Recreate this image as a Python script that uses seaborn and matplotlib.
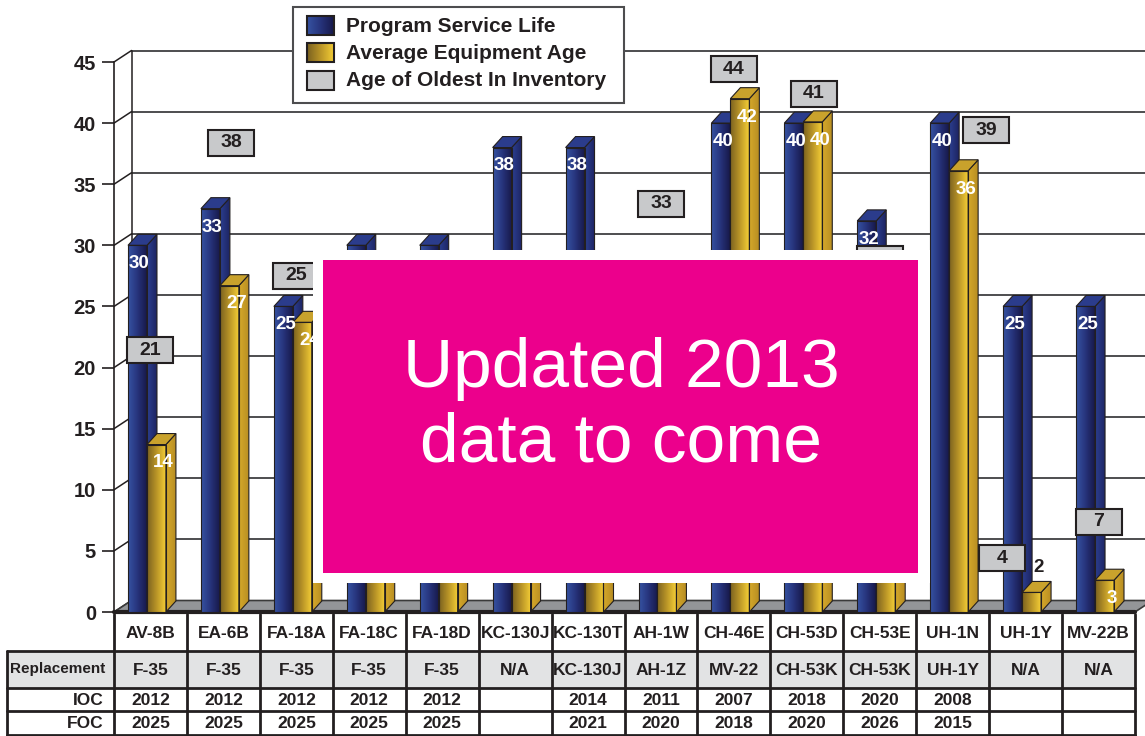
import numpy as np
import pandas as pd
import seaborn as sns
import matplotlib.pyplot as plt
from matplotlib.colors import LinearSegmentedColormap
from matplotlib.patches import Polygon, Rectangle

# data (values under the pink box are estimates)
categories = ["AV-8B", "EA-6B", "FA-18A", "FA-18C", "FA-18D", "KC-130J", "KC-130T",
              "AH-1W", "CH-46E", "CH-53D", "CH-53E", "UH-1N", "UH-1Y", "MV-22B"]
service_life = [30, 33, 25, 30, 30, 38, 38, 25, 40, 40, 32, 40, 25, 25]
avg_age = [13.7, 26.7, 23.7, 20, 20, 5, 25, 20, 42, 40.1, 24, 36.1, 1.6, 2.6]
oldest = [21, 38, 25, 24, 24, 6, 26, 33, 44, 41, 28.5, 39, 4, 7]
replacement = ["F-35", "F-35", "F-35", "F-35", "F-35", "N/A", "KC-130J",
               "AH-1Z", "MV-22", "CH-53K", "CH-53K", "UH-1Y", "N/A", "N/A"]
ioc = ["2012", "2012", "2012", "2012", "2012", "", "2014",
       "2011", "2007", "2018", "2020", "2008", "", ""]
foc = ["2025", "2025", "2025", "2025", "2025", "", "2021",
       "2020", "2018", "2020", "2026", "2015", "", ""]
series_names = ["Program Service Life", "Average Equipment Age", "Age of Oldest In Inventory"]

sns.set_theme(style="white")
plt.rcParams["font.family"] = ["Liberation Sans", "DejaVu Sans"]
INK = "#231f20"

W, H = 1145, 736
AX_L, AX_R, AX_T, AX_B = 114, 1135, 62, 612
XL, XR = -0.452, 13.548
NOTICE = (313, 250, 930, 583)  # white frame around the pink notice, in pixels


def ux(px):
    return px * 14 / (AX_R - AX_L)


def uy(px):
    return px * 45 / (AX_B - AX_T)


def hidden(x, y):
    # True when a data point sits under the notice box
    px = AX_L + (x - XL) * (AX_R - AX_L) / 14
    py = AX_B - y * (AX_B - AX_T) / 45
    return NOTICE[0] < px < NOTICE[2] and NOTICE[1] < py < NOTICE[3]


WDX, WDY = ux(17.5), uy(11.5)   # back wall depth
BDX, BDY = ux(10), uy(11)       # bar depth

blue_front = LinearSegmentedColormap.from_list("bf", ["#3653a2", "#27347c", "#17184a"])
blue_side = LinearSegmentedColormap.from_list("bs", ["#2c3f90", "#1d2462"])
gold_front = LinearSegmentedColormap.from_list("gf", ["#7a6120", "#b99427", "#f3cd36"])
gold_side = LinearSegmentedColormap.from_list("gs", ["#d6a92b", "#b88e22"])
grad = np.linspace(0, 1, 128).reshape(1, -1)

fig = plt.figure(figsize=(W / 100, H / 100), dpi=100)
ax = fig.add_axes([AX_L / W, 1 - AX_B / H, (AX_R - AX_L) / W, (AX_B - AX_T) / H])
ax.set_facecolor("none")

df = pd.DataFrame({
    "aircraft": categories * 2,
    "series": [series_names[0]] * len(categories) + [series_names[1]] * len(categories),
    "value": service_life + avg_age,
})
sns.barplot(data=df, x="aircraft", y="value", hue="series", order=categories,
            hue_order=series_names[:2], palette=["#27347c", "#b99427"],
            width=0.52, gap=0, errorbar=None, saturation=1, legend=False, ax=ax)

# back wall grid, left wall and floor
for v in range(0, 50, 5):
    ax.plot([XL + WDX, XR + WDX], [v + WDY, v + WDY], color="#4d4d4f", lw=1.4,
            zorder=0.5, clip_on=False)
    ax.plot([XL, XL + WDX], [v, v + WDY], color=INK, lw=1.1, zorder=0.5, clip_on=False)
ax.plot([XL + WDX, XL + WDX], [WDY, 45 + WDY], color=INK, lw=1.1, zorder=0.5, clip_on=False)
ax.add_patch(Polygon([(XL, 0), (XR, 0), (XR + WDX, WDY), (XL + WDX, WDY)],
                     closed=True, fc="#939598", ec="#3a3a3a", lw=1.2, zorder=0.8,
                     clip_on=False))
ax.plot([XL, XR], [0, 0], color=INK, lw=3, zorder=0.9, clip_on=False)

# turn the flat seaborn bars into shaded 3d columns
styles = [(blue_front, blue_side, "#2b3c8c", 3, 0.2 * BDX),
          (gold_front, gold_side, "#c9a22c", 4, 0.5 * BDX + ux(2))]
for cont, (cf, cs, ctop, z, lab_dx) in zip(ax.containers, styles):
    for bar in cont:
        x0, w, h = bar.get_x(), bar.get_width(), bar.get_height()
        x1 = x0 + w
        side = Polygon([(x1, 0), (x1 + BDX, BDY), (x1 + BDX, h + BDY), (x1, h)],
                       closed=True, fc="none", ec=INK, lw=0.8, zorder=z + 0.2)
        ax.add_patch(side)
        im = ax.imshow(grad, cmap=cs, extent=[x1, x1 + BDX, 0, h + BDY], aspect="auto",
                       origin="lower", interpolation="bilinear", zorder=z + 0.1)
        im.set_clip_path(side)
        ax.add_patch(Polygon([(x0, h), (x1, h), (x1 + BDX, h + BDY), (x0 + BDX, h + BDY)],
                             closed=True, fc=ctop, ec=INK, lw=0.8, zorder=z + 0.2))
        ax.imshow(grad, cmap=cf, extent=[x0, x1, 0, h], aspect="auto", origin="lower",
                  interpolation="bilinear", zorder=z + 0.1)
        bar.set_facecolor("none")
        bar.set_edgecolor(INK)
        bar.set_linewidth(0.8)
        bar.set_zorder(z + 0.3)
        cx = x0 + w / 2 + lab_dx
        if h < 2:
            ty, tc = h + 2.0, INK
        else:
            ty, tc = h - 1.5, "white"
        if not hidden(cx, ty):
            ax.text(cx, ty, f"{h:.0f}", ha="center", va="center", fontsize=13.5,
                    fontweight="bold", color=tc, zorder=6)

# oldest-in-inventory boxes
nudge = {"FA-18A": (0, 2.1), "CH-53D": (0.1, 1.0), "UH-1N": (0.46, 0), "UH-1Y": (-0.32, 0),
         "EA-6B": (0.11, 0)}
bw, bh = ux(46), uy(26)
for i, (cat, v) in enumerate(zip(categories, oldest)):
    nx, ny = nudge.get(cat, (0, 0))
    cx, cy = i + 0.048 + nx, v + 0.4 + ny
    ax.add_patch(Rectangle((cx - bw / 2, cy - bh / 2), bw, bh, fc="#c8c9cb", ec=INK,
                           lw=1.5, zorder=5, clip_on=False))
    if not hidden(cx, cy):
        ax.text(cx, cy, f"{v:.0f}", ha="center", va="center", fontsize=14,
                fontweight="bold", color=INK, zorder=6, clip_on=False)

ax.set_xlim(XL, XR)
ax.set_ylim(0, 45)
ax.set_yticks(range(0, 50, 5))
ax.tick_params(axis="y", left=True, length=9, width=1.2, color=INK, labelsize=14.5,
               labelcolor=INK, pad=4)
for lbl in ax.get_yticklabels():
    lbl.set_fontweight("bold")
ax.tick_params(axis="x", bottom=False, labelbottom=False)
ax.set_xlabel("")
ax.set_ylabel("")
for s in ["top", "right", "bottom"]:
    ax.spines[s].set_visible(False)
ax.spines["left"].set_color(INK)
ax.spines["left"].set_linewidth(1.2)

# overlay in pixel units: table, legend, notice
ov = fig.add_axes([0, 0, 1, 1])
ov.set_zorder(5)
ov.patch.set_visible(False)
ov.axis("off")

col_w = (AX_R - AX_L) / 14
rows = [614, 651, 688, 711, 735]
ov.add_patch(Rectangle((7, rows[1]), AX_R - 7, rows[2] - rows[1], fc="#e2e3e4", ec="none"))
for y in rows[1:]:
    ov.plot([7, AX_R], [y, y], color=INK, lw=2)
ov.plot([7, 7], [rows[1], H], color=INK, lw=2)
for k in range(15):
    x = AX_L + k * col_w
    ov.plot([x, x], [rows[0], H], color=INK, lw=2)
for i in range(14):
    cx = AX_L + (i + 0.5) * col_w
    for r, txt in enumerate([categories[i], replacement[i], ioc[i], foc[i]]):
        ov.text(cx, (rows[r] + rows[r + 1]) / 2 + 1, txt, ha="center", va="center",
                fontsize=12.5, fontweight="bold", color=INK)
ov.text(10, (rows[1] + rows[2]) / 2, "Replacement", ha="left", va="center", fontsize=11,
        fontweight="bold", color=INK)
ov.text(104, (rows[2] + rows[3]) / 2 + 1, "IOC", ha="right", va="center", fontsize=12.5,
        fontweight="bold", color=INK)
ov.text(104, (rows[3] + rows[4]) / 2 + 1, "FOC", ha="right", va="center", fontsize=12.5,
        fontweight="bold", color=INK)

# legend
ov.add_patch(Rectangle((293, 7), 331, 96, fc="white", ec="#4d4d4f", lw=1.5, zorder=2))
swatches = [blue_front, gold_front, None]
for k, (name, cm) in enumerate(zip(series_names, swatches)):
    yc = 25 + k * 27.5
    if cm is not None:
        ov.imshow(grad, cmap=cm, extent=[307, 334, yc + 9.5, yc - 9.5], aspect="auto",
                  interpolation="bilinear", zorder=3)
    ov.add_patch(Rectangle((307, yc - 9.5), 27, 19, fc="#c8c9cb" if cm is None else "none",
                           ec=INK, lw=1.5, zorder=4))
    ov.text(346, yc + 1, name, ha="left", va="center", fontsize=15, fontweight="bold",
            color=INK, zorder=4)

# "data to come" notice
ov.add_patch(Rectangle((NOTICE[0], NOTICE[1]), NOTICE[2] - NOTICE[0], NOTICE[3] - NOTICE[1],
                       fc="white", ec="none", zorder=6))
ov.add_patch(Rectangle((323, 260), 595, 313, fc="#ec008c", ec="none", zorder=7))
ov.text(621, 387, "Updated 2013", ha="center", va="baseline", fontsize=50,
        color="white", zorder=8)
ov.text(621, 461, "data to come", ha="center", va="baseline", fontsize=50,
        color="white", zorder=8)

ov.set_xlim(0, W)
ov.set_ylim(H, 0)

fig.savefig("out.png", dpi=100)
